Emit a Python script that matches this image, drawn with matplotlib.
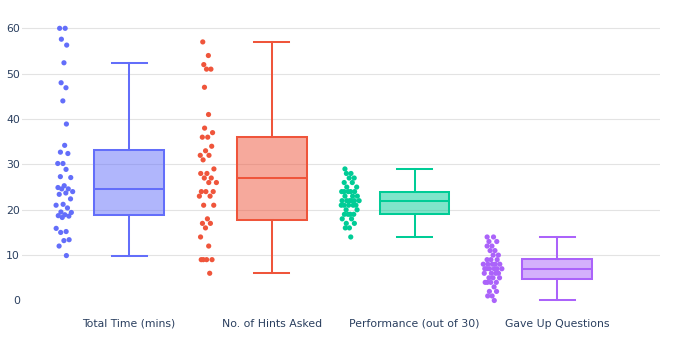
import numpy as np
import matplotlib
matplotlib.use("Agg")
import matplotlib.pyplot as plt

categories = ["Total Time (mins)", "No. of Hints Asked", "Performance (out of 30)", "Gave Up Questions"]

total_time = [60, 60, 57.6, 56.3, 52.4, 48.0, 46.9, 44.0, 38.9, 34.2, 32.7, 32.4,
              30.2, 30.2, 28.9, 27.3, 27.1, 25.3, 24.9, 24.6, 24.6, 24.0, 23.7, 23.4,
              22.4, 21.2, 21.0, 20.4, 19.5, 19.4, 18.9, 18.7, 18.6, 18.3, 15.9, 15.2,
              15.0, 13.4, 13.2, 12.0, 9.9]
hints = [57, 54, 52, 51, 51, 47, 41, 38, 37, 36, 36, 34, 33, 32, 32, 31, 29, 28, 28,
         27, 27, 26, 26, 24, 24, 24, 23, 23, 21, 21, 18, 17, 17, 16, 14, 12, 9, 9, 9, 9, 6]
performance = [29, 28, 28, 27, 27, 26, 26, 25, 25, 24, 24, 24, 24, 24, 23, 23, 23,
               22, 22, 22, 22, 22, 22, 21, 21, 21, 21, 21, 20, 20, 19, 19, 19, 19,
               18, 18, 17, 17, 16, 16, 14]
gave_up = [14, 14, 13, 13, 12, 12, 11, 11, 10, 10, 9, 9, 9, 8, 8, 8, 8, 8, 7, 7, 7,
           7, 7, 7, 6, 6, 6, 6, 5, 5, 5, 4, 4, 4, 4, 3, 2, 2, 1, 1, 0]

series = [total_time, hints, performance, gave_up]
colors = ["#636efa", "#EF553B", "#00cc96", "#ab63fa"]
yticks = [0, 10, 20, 30, 40, 50, 60]

text_color = "#2a3f5f"
grid_color = "#e3e3e3"

fig = plt.figure(figsize=(6.74, 3.37), dpi=100)
W, H = 674, 337
left_px, right_px, top_px, bot_px = 22, 660, 14.7, 314.1
ax = fig.add_axes([left_px / W, 1 - bot_px / H, (right_px - left_px) / W, (bot_px - top_px) / H])
ax.set_xlim(-0.75, 3.72)
ax.set_ylim(-3, 63)

for s in ax.spines.values():
    s.set_visible(False)

for yv in yticks:
    if yv != 0:
        ax.axhline(yv, color=grid_color, lw=0.8, zorder=0)


def hazen_stats(vals, label):
    v = np.sort(np.asarray(vals, dtype=float))
    q1 = np.percentile(v, 25, method="hazen")
    med = np.median(v)
    q3 = np.percentile(v, 75, method="hazen")
    iqr = q3 - q1
    hi = v[v <= q3 + 1.5 * iqr].max()
    lo = v[v >= q1 - 1.5 * iqr].min()
    return dict(med=med, q1=q1, q3=q3, whislo=lo, whishi=hi, fliers=[], label=label)


box_w = 0.49
pt_off = -0.455
jit = 0.07
for i, (vals, col) in enumerate(zip(series, colors)):
    st = hazen_stats(vals, categories[i])
    ax.bxp([st], positions=[i], widths=box_w, showfliers=False, patch_artist=True,
           boxprops=dict(facecolor=matplotlib.colors.to_rgba(col, 0.5), edgecolor=col, linewidth=1.45),
           medianprops=dict(color=col, linewidth=1.45),
           whiskerprops=dict(color=col, linewidth=1.45),
           capprops=dict(color=col, linewidth=1.45),
           capwidths=box_w / 2, manage_ticks=False, zorder=3)
    v = np.asarray(vals, dtype=float)
    rng_span = v.max() - v.min()
    win = rng_span * 0.06 + 0.5
    dens = np.array([np.sum(np.abs(v - x) <= win) for x in v], dtype=float)
    dens = np.sqrt(dens / dens.max())
    k = np.arange(len(v))
    phase = ((k * 0.6180339887) % 1.0) - 0.5
    xs = i + pt_off + 2 * phase * jit * dens
    ax.scatter(xs, v, s=14, color=col, edgecolors="none", zorder=4)

ax.set_xticks(range(len(categories)))
ax.set_xticklabels(categories)
ax.set_yticks(yticks)
ax.set_yticklabels([str(t) for t in yticks])
ax.tick_params(axis="both", length=0, colors=text_color, labelsize=7.8)
ax.tick_params(axis="y", pad=1.5)
ax.tick_params(axis="x", pad=3.5)

fig.savefig("out.png", dpi=100)
